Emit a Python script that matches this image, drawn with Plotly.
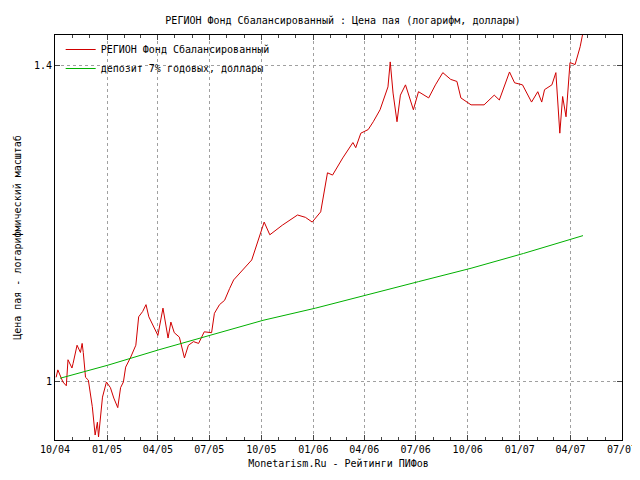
import plotly.graph_objects as go
import pandas as pd
import math

start = pd.Timestamp("2004-10-01")
fund_days = [2,5,14,20,23,30,32,39,45,48,50,54,59,66,71,75,77,80,84,91,98,104,111,116,121,125,134,143,148,155,161,166,173,182,191,200,205,211,220,229,236,245,254,264,277,282,291,300,309,316,
             348,370,380,402,429,
             443,455,470,482,491,509,527,532,541,554,563,575,589,593,598,605,611,620,629,634,643,652,661,673,686,700,711,718,736,759,777,786,804,813,827,843,854,861,866,879,886,893,898,904,911,920,929,934]
fund_vals = [1.004,1.012,0.999,0.995,1.023,1.014,1.019,1.039,1.031,1.041,1.031,1.004,1.001,0.973,0.944,0.957,0.942,0.959,0.983,0.999,0.993,0.982,0.972,0.993,0.999,1.015,1.026,1.039,1.071,1.077,1.085,1.071,1.062,1.050,1.081,1.047,1.065,1.053,1.048,1.025,1.039,1.043,1.041,1.054,1.053,1.075,1.085,1.090,1.104,1.114,
             1.138,1.185,1.169,1.181,1.194,
             1.191,1.185,1.198,1.249,1.246,1.269,1.290,1.283,1.303,1.308,1.319,1.336,1.369,1.406,1.360,1.319,1.357,1.372,1.347,1.336,1.362,1.357,1.353,1.372,1.390,1.380,1.377,1.353,1.343,1.343,1.357,1.350,1.391,1.375,1.372,1.347,1.362,1.347,1.365,1.372,1.390,1.303,1.355,1.326,1.405,1.402,1.429,1.451]
dep_days = [9,93,184,275,368,461,552,643,736,829,934]
dep_vals = [1.003,1.017,1.034,1.050,1.067,1.081,1.096,1.112,1.128,1.146,1.168]
tick_dates = ["2004-10-01","2005-01-01","2005-04-01","2005-07-01","2005-10-01","2006-01-01","2006-04-01","2006-07-01","2006-10-01","2007-01-01","2007-04-01","2007-07-01"]
tick_text = ["10/04","01/05","04/05","07/05","10/05","01/06","04/06","07/06","10/06","01/07","04/07","07/07"]

fx = [start + pd.Timedelta(days=d) for d in fund_days]
dx = [start + pd.Timedelta(days=d) for d in dep_days]
font = dict(family="DejaVu Sans Mono", size=10, color="black")

fig = go.Figure()
fig.add_trace(go.Scatter(x=fx, y=fund_vals, mode="lines", line=dict(color="#d00000", width=1),
                         name="РЕГИОН Фонд Сбалансированный"))
fig.add_trace(go.Scatter(x=dx, y=dep_vals, mode="lines", line=dict(color="#00b000", width=1),
                         name="депозит 7% годовых, доллары"))
fig.update_layout(
    width=632, height=472, plot_bgcolor="white", paper_bgcolor="white", font=font,
    margin=dict(l=47, r=18, t=27, b=40),
    title=dict(text="РЕГИОН Фонд Сбалансированный : Цена пая (логарифм, доллары)", x=0.53, y=0.98, font=font),
    legend=dict(x=0.01, y=1.0, xanchor="left", yanchor="top", bgcolor="rgba(0,0,0,0)", font=font,
                tracegroupgap=0, itemwidth=30),
    showlegend=True,
)
fig.update_xaxes(range=[tick_dates[0], tick_dates[-1]], tickvals=tick_dates, ticktext=tick_text,
                 automargin=False,
                 showgrid=True, gridcolor="#a0a0a0", griddash="dot", ticks="inside", ticklen=5,
                 showline=True, linecolor="black", mirror="ticks",
                 minor=dict(dtick="M1", ticks="inside", ticklen=3, showgrid=False),
                 title=dict(text="Monetarism.Ru - Рейтинги ПИФов", font=font, standoff=5))
fig.update_yaxes(type="log", range=[math.log10(0.939), math.log10(1.447)], tickvals=[1, 1.4], ticktext=["1", "1.4"],
                 automargin=False,
                 showgrid=True, gridcolor="#a0a0a0", griddash="dot", ticks="inside", ticklen=5,
                 showline=True, linecolor="black", mirror="ticks",
                 title=dict(text="Цена пая - логарифмический масштаб", font=font, standoff=10))
fig.write_html("out.html")
